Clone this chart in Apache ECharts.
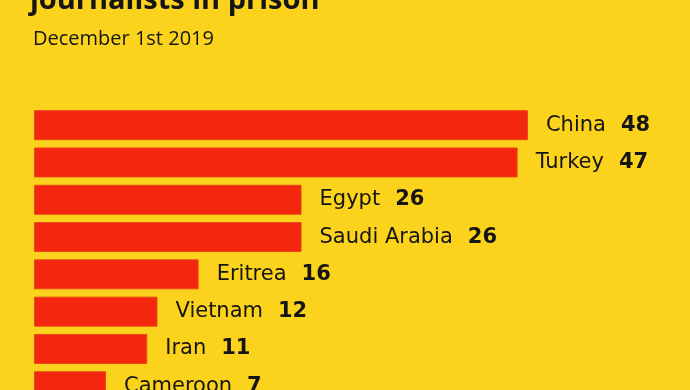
<!DOCTYPE html>
<html>
<head>
<meta charset="utf-8">
<script src="https://cdn.jsdelivr.net/npm/echarts@6/dist/echarts.min.js"></script>
<style>
html,body{margin:0;padding:0;background:#FCD21E;overflow:hidden;}
#c{width:690px;height:430px;}
</style>
</head>
<body>
<div id="c"></div>
<script>
const countries = ["China", "Turkey", "Egypt", "Saudi Arabia", "Eritrea", "Vietnam", "Iran", "Cameroon"];
const jailed = [48, 47, 26, 26, 16, 12, 11, 7];
const titleText = "journalists in prison";
const subtitleText = "December 1st 2019";

const chart = echarts.init(document.getElementById('c'), null, {renderer: 'canvas'});
chart.setOption({
  backgroundColor: '#FCD31C',
  animation: false,
  title: [{
    text: titleText,
    left: 30,
    top: -14,
    padding: 0,
    textStyle: {fontFamily: 'Open Sans', fontWeight: 'bold', fontSize: 29, color: '#151515', lineHeight: 29}
  }, {
    text: subtitleText,
    left: 33,
    top: 28,
    padding: 0,
    textStyle: {fontFamily: 'Open Sans', fontWeight: 'normal', fontSize: 20, color: '#151515', lineHeight: 22}
  }],
  grid: {left: 34, top: 106.5, height: 298.4, width: 617.4, containLabel: false},
  xAxis: {type: 'value', min: 0, max: 60, show: false},
  yAxis: {type: 'category', data: countries, inverse: true, show: false},
  series: [{
    type: 'bar',
    data: jailed,
    barWidth: 30,
    itemStyle: {color: '#F4260E', borderColor: '#E8481A', borderWidth: 1},
    label: {
      show: true,
      position: 'right',
      distance: 18,
      formatter: function (p) { return '{n|' + p.name + '}{v|' + p.value + '}'; },
      rich: {
        n: {fontFamily: 'DejaVu Sans', fontSize: 21, color: '#151515'},
        v: {fontFamily: 'DejaVu Sans', fontWeight: 'bold', fontSize: 21, color: '#151515', padding: [0, 0, 0, 15]}
      }
    }
  }]
});
</script>
</body>
</html>
